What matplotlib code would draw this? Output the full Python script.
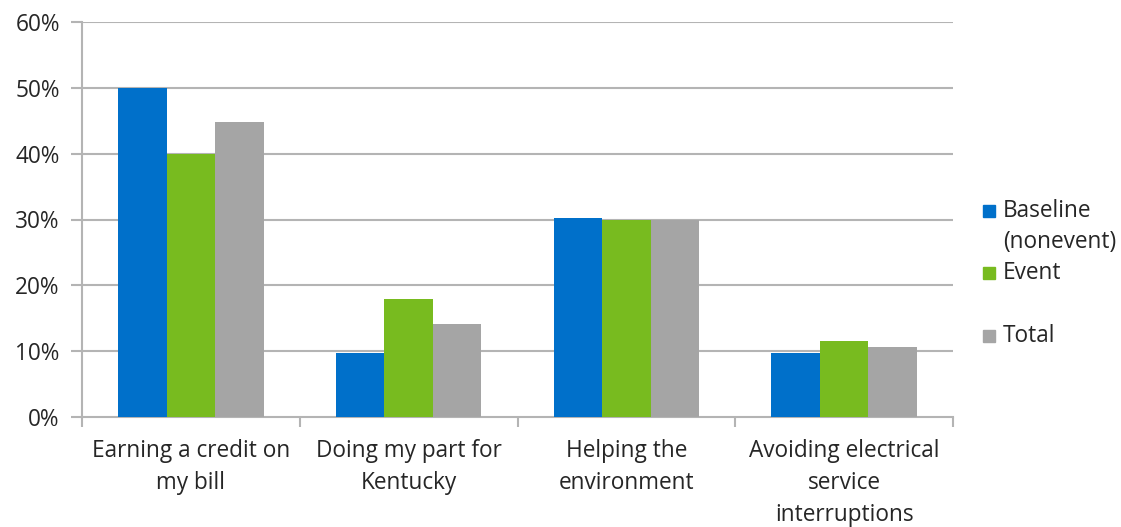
import matplotlib
matplotlib.use("Agg")
import matplotlib.pyplot as plt
from matplotlib.patches import Rectangle
import numpy as np

categories = ["Earning a credit on\nmy bill", "Doing my part for\nKentucky",
              "Helping the\nenvironment", "Avoiding electrical\nservice\ninterruptions"]
series_names = ["Baseline\n(nonevent)", "Event", "Total"]
baseline = [50.0, 9.7, 30.3, 9.7]
event = [40.0, 18.0, 30.0, 11.6]
total = [44.8, 14.1, 30.0, 10.6]
y_ticks = [0, 10, 20, 30, 40, 50, 60]
y_tick_labels = ["0%", "10%", "20%", "30%", "40%", "50%", "60%"]

colors = ["#0070CA", "#78BB1F", "#A5A5A5"]
grid_color = "#B4B4B4"
text_color = "#262626"
FONT = "Open Sans"
FS = 16.3

fig = plt.figure(figsize=(11.21, 5.27), dpi=100)
ax = fig.add_axes([82/1121, 1 - 417/527, (953-82)/1121, (417-22)/527])

x = np.arange(len(categories))
bw = 0.2225
for i, (vals, c) in enumerate(zip([baseline, event, total], colors)):
    ax.bar(x + (i - 1) * bw, vals, width=bw, color=c, zorder=3, linewidth=0)

ax.set_xlim(-0.5, len(categories) - 0.5)
ax.set_ylim(0, 60)
ax.set_yticks(y_ticks)
ax.set_yticklabels(y_tick_labels, fontsize=FS, family=FONT, color=text_color)
for yv in y_ticks[1:]:
    ax.axhline(yv, color=grid_color, lw=1.5, zorder=1)

# category labels
ax.set_xticks(x)
ax.set_xticklabels(categories, fontsize=FS, family=FONT, color=text_color, linespacing=1.44)
ax.tick_params(axis="x", length=0, pad=16)
# boundary tick marks
ax.set_xticks(np.arange(-0.5, len(categories), 1.0), minor=True)
ax.tick_params(axis="x", which="minor", length=7, width=1.5, color=grid_color)
ax.tick_params(axis="y", length=8, width=1.5, color=grid_color, pad=8)

for s in ["top", "right"]:
    ax.spines[s].set_visible(False)
for s in ["left", "bottom"]:
    ax.spines[s].set_color(grid_color)
    ax.spines[s].set_linewidth(1.5)

# legend (manual)
legend_y = [211, 273, 336]
for name, c, yy in zip(series_names, colors, legend_y):
    fig.patches.append(Rectangle((983/1121, 1 - (yy + 6)/527), 12/1121, 12/527,
                                 transform=fig.transFigure, color=c))
    lines = name.split("\n")
    for k, ln in enumerate(lines):
        fig.text(1003/1121, 1 - (yy + k * 31)/527, ln, fontsize=FS, family=FONT,
                 color=text_color, va="center", ha="left")

fig.savefig("out.png", dpi=100)
